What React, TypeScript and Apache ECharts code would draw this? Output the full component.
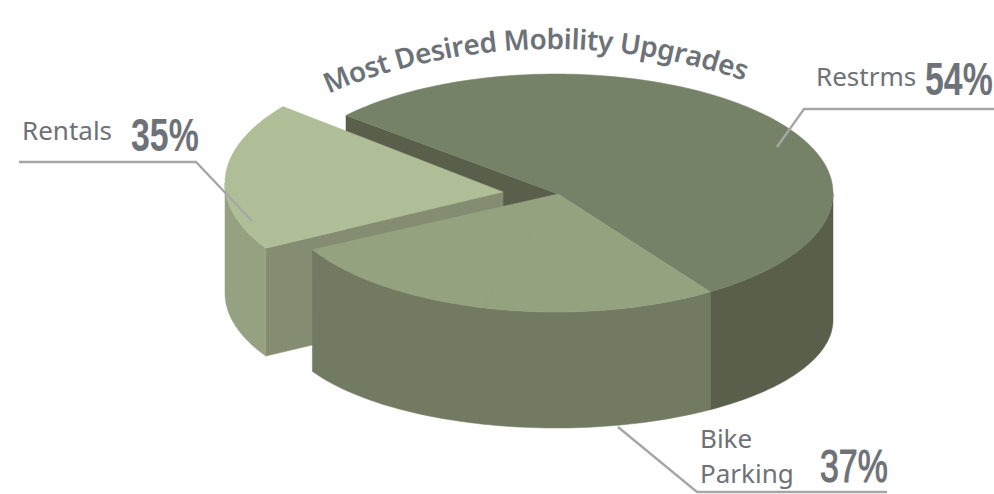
import React, { useEffect, useRef } from "react";
import * as echarts from "echarts";

const categories = ["Restrms", "Bike Parking", "Rentals"];
const percentLabels = ["54%", "37%", "35%"];
// slice sizes as drawn in the picture (the drawn wedges do not follow the printed labels)
const sliceShares = [54.3, 26.5, 19.2];
const drawOrder = [0, 2, 1];
const titleText = "Most Desired Mobility Upgrades";

const TEXT = "#6d7278";
const LINE = "#a6a6a6";
const FONT = "'Noto Sans', sans-serif";
const START_T = 220.7;

type Geo = { cx: number; cy: number; rx: number; ry: number; ax: number; ay: number; bcy: number; bry: number; depth: number; rot: number };
const mainGeo: Geo = { cx: 556, cy: 193, rx: 277, ry: 119, ax: 558, ay: 194, bcy: 320, bry: 108, depth: 114, rot: 0 };
const rentalGeo: Geo = { cx: 503, cy: 183, rx: 278, ry: 125, ax: 503, ay: 192, bcy: 293, bry: 121, depth: 108, rot: -3 };

const colors = [
  { top: "#768267", outer: "#595f4b", inner: "#595f4b" },
  { top: "#94a280", outer: "#727a61", inner: "#727a61" },
  { top: "#b0be98", outer: "#95a180", inner: "#848c71" },
];

const rad = (d: number) => (d * Math.PI) / 180;
const topPt = (g: Geo, t: number) => [g.cx + g.rx * Math.cos(rad(t)), g.cy + g.ry * Math.sin(rad(t))];
const botPt = (g: Geo, t: number) => [g.cx + g.rx * Math.cos(rad(t)), g.bcy + g.bry * Math.sin(rad(t))];
const arc = (f: (g: Geo, t: number) => number[], g: Geo, a: number, b: number) => {
  const pts: number[][] = [];
  const n = Math.max(2, Math.ceil(Math.abs(b - a) / 1.5));
  for (let i = 0; i <= n; i++) pts.push(f(g, a + ((b - a) * i) / n));
  return pts;
};

function renderSlice(params: any, api: any) {
  const idx = api.value(0) as number;
  const total = sliceShares.reduce((s, v) => s + v, 0);
  let a = START_T;
  for (let i = 0; i < idx; i++) a += (sliceShares[i] / total) * 360;
  let b = a + (sliceShares[idx] / total) * 360;
  const g = idx === 2 ? rentalGeo : mainGeo;
  a += g.rot;
  b += g.rot;
  const c = colors[idx];
  const children: any[] = [];
  const poly = (points: number[][], fill: string) =>
    children.push({ type: "polygon", shape: { points }, style: { fill, stroke: fill, lineWidth: 0.5 } });

  // inner cut wall
  if (idx === 0) {
    const p = topPt(g, a);
    poly([p, [g.ax, g.ay], [g.ax, g.ay + g.depth], [p[0], p[1] + g.depth]], c.inner);
  }
  if (idx === 2) {
    const p = topPt(g, a);
    const q = botPt(g, a);
    poly([p, [g.ax, g.ay], [g.ax, g.ay + g.depth], q], c.inner);
  }
  // outer wall: the part of the rim that faces the viewer
  const wrap = a > 180 ? 360 : 0;
  const lo = Math.max(a, wrap);
  const hi = Math.min(b, wrap + 180);
  if (hi > lo) {
    poly([...arc(topPt, g, lo, hi), ...arc(botPt, g, hi, lo)], c.outer);
  }
  // top face
  poly([[g.ax, g.ay], ...arc(topPt, g, a, b)], c.top);
  // faint seam on the bike wedge
  if (idx === 1) {
    const s = topPt(g, a + (b - a) * 0.5);
    children.push({
      type: "line",
      shape: { x1: g.ax, y1: g.ay, x2: s[0] - 8, y2: s[1] },
      style: { stroke: "#909e7b", lineWidth: 0.5 },
    });
  }
  return { type: "group", children };
}

function titleLetters() {
  const font = `600 28px ${FONT}`;
  const ctx = document.createElement("canvas").getContext("2d")!;
  ctx.font = font;
  const cx = 553;
  const cy = 640;
  const R = 594;
  const arcLen = 428;
  const chars = titleText.split("");
  const widths = chars.map((ch) => ctx.measureText(ch).width);
  const sum = widths.reduce((s, v) => s + v, 0);
  const extra = (arcLen - sum) / (chars.length - 1);
  let s = -232;
  const out: any[] = [];
  chars.forEach((ch, i) => {
    const mid = s + widths[i] / 2;
    s += widths[i] + extra;
    if (ch === " ") return;
    const th = mid / R;
    const r = R + 8;
    out.push({
      type: "text",
      x: cx + r * Math.sin(th),
      y: cy - r * Math.cos(th),
      rotation: -th * 1.1,
      style: { text: ch, font, fill: TEXT, align: "center", verticalAlign: "middle" },
    });
  });
  return out;
}

const label = (text: string, x: number, y: number) => ({
  type: "text",
  x,
  y,
  style: { text, font: `26px ${FONT}`, fill: TEXT, align: "left", verticalAlign: "middle" },
});
const pct = (text: string, x: number, y: number, bold: boolean) => ({
  type: "text",
  x,
  y,
  scaleX: 0.72,
  style: {
    text,
    font: `${bold ? "bold " : ""}47px 'Liberation Sans', sans-serif`,
    fill: TEXT,
    align: "left",
    verticalAlign: "middle",
    ...(bold ? {} : { stroke: TEXT, lineWidth: 1.2 }),
  },
});
const leader = (points: number[][]) => ({
  type: "polyline",
  shape: { points },
  style: { stroke: LINE, lineWidth: 2.3, fill: "none" },
  z: 10,
});

export default function App() {
  const ref = useRef<HTMLDivElement>(null);
  useEffect(() => {
    document.body.style.margin = "0";
    const chart = echarts.init(ref.current!, undefined, { renderer: "svg" });
    chart.setOption({
      animation: false,
      backgroundColor: "#ffffff",
      series: [
        {
          type: "custom",
          coordinateSystem: "none",
          renderItem: renderSlice,
          data: drawOrder.map((i) => ({ name: categories[i], value: [i, sliceShares[i]] })),
          silent: true,
        },
      ],
      graphic: [
        ...titleLetters(),
        leader([[994, 109], [804, 109], [777, 147]]),
        leader([[887, 492], [697, 492], [618, 427]]),
        leader([[19, 162], [196, 162], [252, 221]]),
        label(categories[0], 816, 76),
        pct(percentLabels[0], 925, 79, true),
        label("Bike", 700, 438),
        label("Parking", 700, 473),
        pct(percentLabels[1], 820, 466, false),
        label(categories[2], 22, 130),
        pct(percentLabels[2], 131, 135, true),
      ],
    });
    return () => chart.dispose();
  }, []);
  return <div ref={ref} style={{ width: 994, height: 494 }} />;
}
